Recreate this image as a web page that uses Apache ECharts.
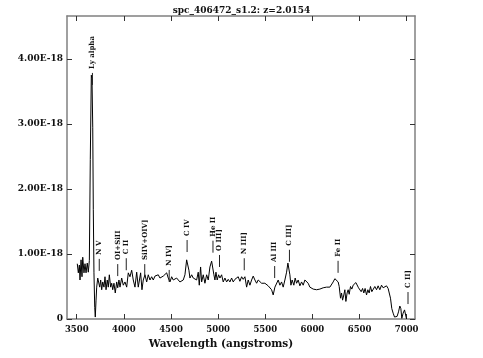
<!DOCTYPE html>
<html>
<head>
<meta charset="utf-8">
<script src="https://cdn.jsdelivr.net/npm/echarts@6/dist/echarts.min.js"></script>
<style>
html, body { margin: 0; padding: 0; background: #fff; }
#main { width: 483px; height: 358px; }
</style>
</head>
<body>
<div id="main"></div>
<script>
// spectrum, flux in units of 1e-18
var redshift = 2.0154;
var wavelength = [
    3506, 3517, 3528, 3535, 3546, 3556, 3564, 3577, 3588, 3599, 3612, 3623, 3634,
    3644, 3655, 3662, 3670, 3676, 3683, 3691, 3697, 3705, 3712, 3723, 3733, 3744,
    3754, 3765, 3776, 3789, 3800, 3811, 3824, 3835, 3846, 3860, 3871, 3882, 3895,
    3909, 3924, 3935, 3948, 3959, 3977, 3994, 4012, 4030, 4047, 4065, 4083, 4100,
    4118, 4136, 4153, 4178, 4192, 4206, 4224, 4242, 4259, 4277, 4295, 4312, 4330,
    4348, 4365, 4383, 4401, 4418, 4436, 4454, 4471, 4489, 4507, 4524, 4560, 4595,
    4630, 4648, 4666, 4677, 4690, 4701, 4719, 4736, 4754, 4772, 4789, 4800, 4814,
    4825, 4842, 4860, 4878, 4895, 4913, 4931, 4942, 4955, 4966, 4977, 4990, 5005,
    5019, 5037, 5054, 5072, 5090, 5107, 5125, 5143, 5160, 5178, 5196, 5213, 5231,
    5249, 5266, 5284, 5302, 5319, 5337, 5355, 5372, 5390, 5408, 5425, 5443, 5461,
    5478, 5496, 5514, 5531, 5549, 5567, 5584, 5602, 5620, 5637, 5655, 5673, 5690,
    5708, 5726, 5740, 5750, 5761, 5772, 5785, 5803, 5817, 5832, 5849, 5867, 5885,
    5902, 5920, 5938, 5955, 5973, 5991, 6008, 6026, 6044, 6061, 6079, 6097, 6114,
    6132, 6150, 6167, 6185, 6203, 6220, 6238, 6256, 6273, 6284, 6298, 6309, 6320,
    6333, 6344, 6355, 6368, 6379, 6390, 6404, 6418, 6432, 6447, 6461, 6474, 6489,
    6503, 6517, 6532, 6545, 6559, 6574, 6588, 6602, 6616, 6630, 6644, 6662, 6680,
    6697, 6715, 6733, 6750, 6768, 6786, 6803, 6814, 6828, 6842, 6856, 6871, 6885,
    6898, 6913, 6927, 6938, 6948, 6962, 6977, 6991, 6998
];
var flux = [
    0.85, 0.71, 0.83, 0.60, 0.91, 0.65, 0.95, 0.71, 0.85, 0.71, 0.86, 0.72, 0.90,
    2.45, 3.75, 3.70, 2.95, 1.68, 0.71, 0.18, 0.03, 0.29, 0.49, 0.63, 0.65, 0.49,
    0.60, 0.45, 0.57, 0.49, 0.65, 0.45, 0.60, 0.49, 0.68, 0.49, 0.55, 0.45, 0.55,
    0.40, 0.57, 0.48, 0.60, 0.49, 0.63, 0.52, 0.57, 0.49, 0.71, 0.65, 0.75, 0.60,
    0.49, 0.72, 0.49, 0.71, 0.45, 0.60, 0.68, 0.57, 0.68, 0.60, 0.65, 0.60, 0.66,
    0.63, 0.68, 0.63, 0.65, 0.66, 0.63, 0.71, 0.63, 0.57, 0.65, 0.60, 0.63, 0.57,
    0.60, 0.68, 0.91, 0.94, 0.75, 0.63, 0.68, 0.63, 0.65, 0.60, 0.72, 0.52, 0.80,
    0.57, 0.68, 0.55, 0.68, 0.60, 0.80, 0.89, 0.86, 0.68, 0.60, 0.72, 0.60, 0.68,
    0.63, 0.68, 0.57, 0.63, 0.57, 0.61, 0.57, 0.63, 0.57, 0.61, 0.60, 0.65, 0.58,
    0.65, 0.61, 0.65, 0.49, 0.60, 0.52, 0.60, 0.66, 0.60, 0.55, 0.60, 0.57, 0.55,
    0.58, 0.55, 0.57, 0.51, 0.54, 0.45, 0.37, 0.49, 0.46, 0.60, 0.52, 0.57, 0.49,
    0.60, 0.72, 0.86, 0.83, 0.68, 0.52, 0.60, 0.52, 0.63, 0.55, 0.60, 0.51, 0.57,
    0.52, 0.60, 0.63, 0.55, 0.49, 0.51, 0.46, 0.49, 0.45, 0.48, 0.46, 0.49, 0.48,
    0.51, 0.49, 0.52, 0.49, 0.52, 0.57, 0.62, 0.65, 0.57, 0.50, 0.32, 0.40, 0.29,
    0.37, 0.45, 0.27, 0.40, 0.45, 0.38, 0.50, 0.46, 0.52, 0.49, 0.56, 0.55, 0.48,
    0.50, 0.42, 0.47, 0.40, 0.47, 0.37, 0.45, 0.40, 0.50, 0.42, 0.45, 0.50, 0.45,
    0.51, 0.45, 0.52, 0.48, 0.45, 0.51, 0.47, 0.45, 0.32, 0.16, 0.09, 0.03, 0.00,
    0.04, 0.11, 0.20, 0.16, 0.01, 0.09, 0.14, 0.11, 0.00
];

// emission line ids: rest wavelength, flux where the marker starts
var lineNames = ['Ly alpha', 'N V', 'OI+SiII', 'C II', 'SiIV+OIV]', 'N IV]', 'C IV',
    'He II', 'O III]', 'N III]', 'Al III', 'C III]', 'Fe II', 'C II]'];
var lineRest = [1216, 1240, 1305, 1335, 1400, 1486, 1549, 1640, 1663, 1750, 1857, 1909, 2080, 2326];
var lineFlux = [3.60, 0.74, 0.66, 0.75, 0.66, 0.57, 1.03, 1.02, 0.80, 0.75, 0.63, 0.88, 0.71, 0.23];

var xTicks = [3500, 4000, 4500, 5000, 5500, 6000, 6500, 7000];
var yTicks = [0, 1, 2, 3, 4];

var myChart = echarts.init(document.getElementById('main'));

var spec = [];
for (var i = 0; i < wavelength.length; i++) {
    spec.push([wavelength[i], flux[i]]);
}
var lineData = [];
for (var j = 0; j < lineNames.length; j++) {
    lineData.push([lineRest[j] * (1 + redshift), lineFlux[j]]);
}

var font = 'DejaVu Serif';
var boxLine = { show: true, onZero: false, lineStyle: { color: '#808080', width: 1.5 } };
var xTick = { show: true, inside: true, length: 5, customValues: xTicks, lineStyle: { color: '#333' } };
var yTick = { show: true, inside: true, length: 5, customValues: yTicks, lineStyle: { color: '#333' } };

var option = {
    animation: false,
    backgroundColor: '#fff',
    title: {
        text: 'spc_406472_s1.2: z=2.0154',
        left: 'center',
        top: 1,
        textStyle: { fontFamily: font, fontWeight: 'bold', fontSize: 9, color: '#111' }
    },
    grid: { left: 67, right: 68, top: 16, bottom: 39 },
    xAxis: [{
        type: 'value',
        position: 'bottom',
        min: 3397,
        max: 7088,
        axisLine: boxLine,
        axisTick: xTick,
        splitLine: { show: false },
        axisLabel: {
            customValues: xTicks,
            margin: 6,
            fontFamily: font, fontWeight: 'bold', fontSize: 8.5, color: '#111',
            formatter: function (v) {
                return String(v);
            }
        },
        name: 'Wavelength (angstroms)',
        nameLocation: 'middle',
        nameGap: 20,
        nameTextStyle: {
            fontFamily: font, fontWeight: 'bold', fontSize: 10.5, color: '#111',
            padding: [0, 40, 0, 0]
        }
    }, {
        type: 'value',
        position: 'top',
        min: 3397,
        max: 7088,
        axisLine: boxLine,
        axisTick: xTick,
        axisLabel: { show: false },
        splitLine: { show: false }
    }],
    yAxis: [{
        type: 'value',
        position: 'left',
        min: 0,
        max: 4.66,
        axisLine: boxLine,
        axisTick: yTick,
        splitLine: { show: false },
        axisLabel: {
            customValues: yTicks,
            margin: 4,
            fontFamily: font, fontWeight: 'bold', fontSize: 9, color: '#111',
            formatter: function (v) {
                return v === 0 ? '0' : v.toFixed(2) + 'E-18';
            }
        }
    }, {
        type: 'value',
        position: 'right',
        min: 0,
        max: 4.66,
        axisLine: boxLine,
        axisTick: yTick,
        axisLabel: { show: false },
        splitLine: { show: false }
    }],
    series: [{
        type: 'line',
        data: spec,
        showSymbol: false,
        lineStyle: { color: '#000', width: 1 },
        z: 3
    }, {
        type: 'custom',
        data: lineData,
        clip: false,
        encode: { x: 0, y: 1 },
        renderItem: function (params, api) {
            var p = api.coord([api.value(0), api.value(1)]);
            return {
                type: 'group',
                children: [{
                    type: 'line',
                    shape: { x1: p[0], y1: p[1], x2: p[0], y2: p[1] - 12 },
                    style: { stroke: '#222', lineWidth: 1 }
                }, {
                    type: 'text',
                    x: p[0],
                    y: p[1] - 16,
                    rotation: Math.PI / 2,
                    style: {
                        text: lineNames[params.dataIndex],
                        textAlign: 'left',
                        textVerticalAlign: 'middle',
                        font: 'bold 7px "DejaVu Serif"',
                        fill: '#111'
                    }
                }]
            };
        },
        z: 4
    }]
};
myChart.setOption(option);
</script>
</body>
</html>
